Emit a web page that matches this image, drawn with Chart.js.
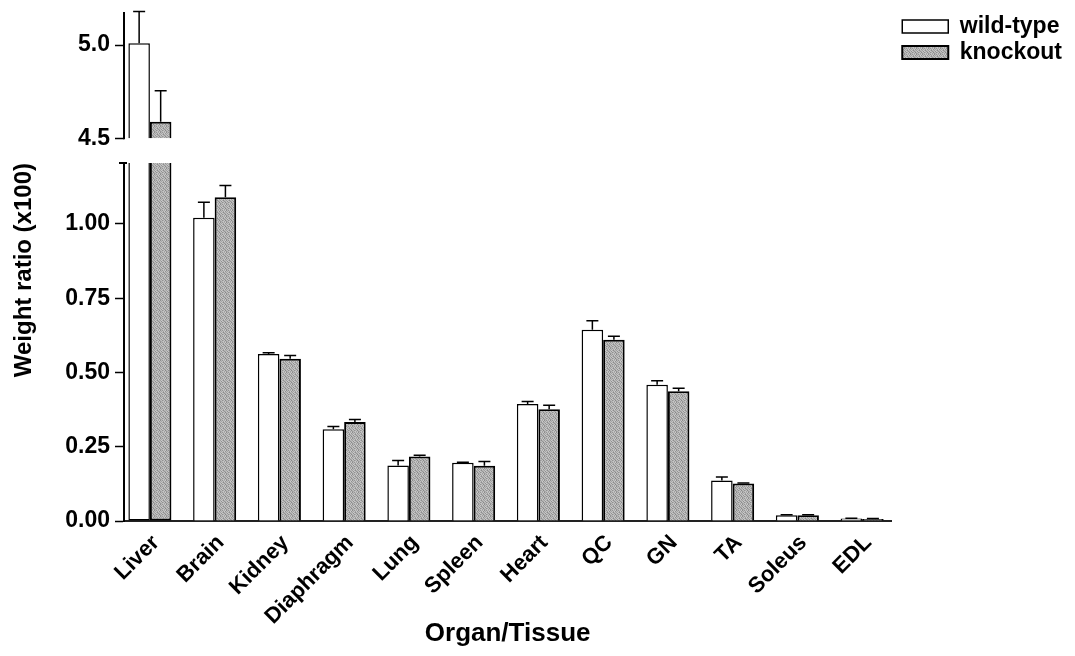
<!DOCTYPE html>
<html>
<head>
<meta charset="utf-8">
<script src="https://cdn.jsdelivr.net/npm/chart.js@4"></script>
<style>
  html, body { margin: 0; background: #fff; }
  #wrap { width: 1075px; height: 656px; }
</style>
</head>
<body>
<div id="wrap"><canvas id="organWeights"></canvas></div>
<script>
const organs = ['Liver', 'Brain', 'Kidney', 'Diaphragm', 'Lung', 'Spleen', 'Heart', 'QC', 'GN', 'TA', 'Soleus', 'EDL'];
const wildType = [5.01, 1.021, 0.562, 0.309, 0.187, 0.196, 0.394, 0.644, 0.459, 0.136, 0.019, 0.008];
const knockout = [4.589, 1.090, 0.546, 0.333, 0.217, 0.186, 0.376, 0.610, 0.437, 0.126, 0.019, 0.007];
const wildTypeErr = [0.17, 0.052, 0.004, 0.009, 0.017, 0.002, 0.008, 0.030, 0.013, 0.012, 0.002, 0.001];
const knockoutErr = [0.166, 0.039, 0.011, 0.009, 0.004, 0.014, 0.014, 0.012, 0.010, 0.002, 0.002, 0.001];
const lowerTicks = [0, 0.25, 0.5, 0.75, 1.0];
const upperTicks = [4.5, 5.0];

// broken axis: lower segment 0..lowerMax, upper segment from the break up
const lowerMax = 1.205;
const breakValue = 4.5;
const upperMin = 4.368;
const upperMax = 5.177;

const black = '#000';
const font = (size, weight) => ({ family: '"Liberation Sans", Arial, sans-serif', size: size, weight: weight || 'bold' });

// grey stipple like the scanned knockout bars
function stipple() {
  const c = document.createElement('canvas');
  c.width = c.height = 6;
  const g = c.getContext('2d');
  const shades = [
    [150, 190, 170, 200, 140, 185],
    [195, 160, 205, 145, 190, 165],
    [175, 140, 180, 185, 160, 200],
    [200, 185, 150, 170, 195, 145],
    [145, 170, 195, 135, 180, 190],
    [185, 200, 160, 190, 150, 170],
  ];
  shades.forEach((row, r) => row.forEach((s, k) => {
    g.fillStyle = 'rgb(' + s + ',' + s + ',' + s + ')';
    g.fillRect(k, r, 1, 1);
  }));
  return g.createPattern(c, 'repeat');
}
const knockoutFill = stipple();

const errorBars = {
  id: 'errorBars',
  afterLayout(chart) {
    // legend sits a little away from the plot
    chart.legend.left += 8;
    chart.legend.right += 8;
  },
  afterDatasetsDraw(chart) {
    const ctx = chart.ctx;
    ctx.save();
    ctx.strokeStyle = black;
    ctx.lineWidth = 1.5;
    [[wildType, wildTypeErr, 0, 2], [knockout, knockoutErr, 1, 3]].forEach(([vals, errs, lo, hi]) => {
      vals.forEach((v, i) => {
        const meta = chart.getDatasetMeta(v > lowerMax ? hi : lo);
        const scale = chart.scales[meta.yAxisID];
        const x = meta.data[i].x;
        const y0 = scale.getPixelForValue(v);
        const y1 = scale.getPixelForValue(v + errs[i]);
        ctx.beginPath();
        ctx.moveTo(x, y0);
        ctx.lineTo(x, y1);
        ctx.moveTo(x - 6, y1);
        ctx.lineTo(x + 6, y1);
        ctx.stroke();
      });
    });
    // upper part of the broken y axis
    const top = chart.scales.yTop;
    const low = chart.scales.y;
    const ax = chart.chartArea.left;
    ctx.lineWidth = 2;
    ctx.beginPath();
    ctx.moveTo(ax, top.getPixelForValue(breakValue) + 1);
    ctx.lineTo(ax, top.top);
    ctx.moveTo(ax - 5, low.top);
    ctx.lineTo(ax + 3, low.top);
    ctx.stroke();
    ctx.restore();
  }
};

const yTicks = {
  color: black,
  font: font(23),
  padding: 5,
};
const yGrid = {
  drawOnChartArea: false,
  tickLength: 9,
  tickColor: black,
  tickWidth: 1.5,
};

new Chart(document.getElementById('organWeights'), {
  type: 'bar',
  data: {
    labels: organs,
    datasets: [
      {
        label: 'wild-type',
        data: wildType.map(v => Math.min(v, lowerMax)),
        yAxisID: 'y',
        stack: 'wt',
        backgroundColor: '#fff',
        borderColor: black,
        borderWidth: 1.5,
        borderSkipped: c => (wildType[c.dataIndex] > lowerMax ? 'end' : 'start'),
      },
      {
        label: 'knockout',
        data: knockout.map(v => Math.min(v, lowerMax)),
        yAxisID: 'y',
        stack: 'ko',
        backgroundColor: knockoutFill,
        borderColor: black,
        borderWidth: 2,
        borderSkipped: c => (knockout[c.dataIndex] > lowerMax ? 'end' : 'start'),
      },
      {
        label: 'wild-type top',
        data: wildType.map(v => (v > lowerMax ? [breakValue, v] : null)),
        yAxisID: 'yTop',
        stack: 'wt',
        backgroundColor: '#fff',
        borderColor: black,
        borderWidth: 1.5,
      },
      {
        label: 'knockout top',
        data: knockout.map(v => (v > lowerMax ? [breakValue, v] : null)),
        yAxisID: 'yTop',
        stack: 'ko',
        backgroundColor: knockoutFill,
        borderColor: black,
        borderWidth: 2,
      },
    ],
  },
  options: {
    responsive: true,
    maintainAspectRatio: false,
    animation: false,
    categoryPercentage: 0.665,
    barPercentage: 1.0,
    layout: { padding: { top: 12, right: 11, bottom: 0, left: 0 } },
    plugins: {
      tooltip: { enabled: false },
      legend: {
        position: 'right',
        align: 'start',
        labels: {
          color: black,
          font: font(23),
          boxWidth: 46,
          boxHeight: 13,
          padding: 3,
          filter: item => item.datasetIndex < 2,
        },
      },
    },
    scales: {
      x: {
        stacked: true,
        offset: true,
        afterBuildTicks: s => { s._startValue = -0.40; s._valueRange = 11.85; },
        afterFit: s => { s.height = 135; },
        grid: { display: false, drawTicks: false },
        border: { color: '#222', width: 2 },
        ticks: { color: black, font: font(22), autoSkip: false, minRotation: 45, maxRotation: 45, padding: 9, labelOffset: 6 },
        title: { display: true, text: 'Organ/Tissue', color: black, font: font(26), padding: { top: 0, bottom: 7 } },
      },
      y: {
        type: 'linear',
        position: 'left',
        stack: 'left',
        stackWeight: 358,
        stacked: false,
        min: 0,
        max: lowerMax,
        afterBuildTicks: s => { s.ticks = lowerTicks.map(v => ({ value: v })); },
        afterFit: s => { s.width = 124; s.paddingTop = 0; s.paddingBottom = 0; },
        ticks: Object.assign({ callback: v => v.toFixed(2) }, yTicks),
        grid: yGrid,
        border: { color: black, width: 2 },
        title: { display: true, text: 'Weight ratio (x100)', align: 'end', color: black, font: font(24), padding: { top: 10, bottom: 0 } },
      },
      yTop: {
        type: 'linear',
        position: 'left',
        stack: 'left',
        stackWeight: 151,
        stacked: false,
        min: upperMin,
        max: upperMax,
        afterBuildTicks: s => { s.ticks = upperTicks.map(v => ({ value: v })); },
        afterFit: s => { s.width = 124; s.paddingTop = 0; s.paddingBottom = 0; },
        ticks: Object.assign({ callback: v => v.toFixed(1) }, yTicks),
        grid: yGrid,
        border: { display: false },
      },
    },
  },
  plugins: [errorBars],
});
</script>
</body>
</html>
